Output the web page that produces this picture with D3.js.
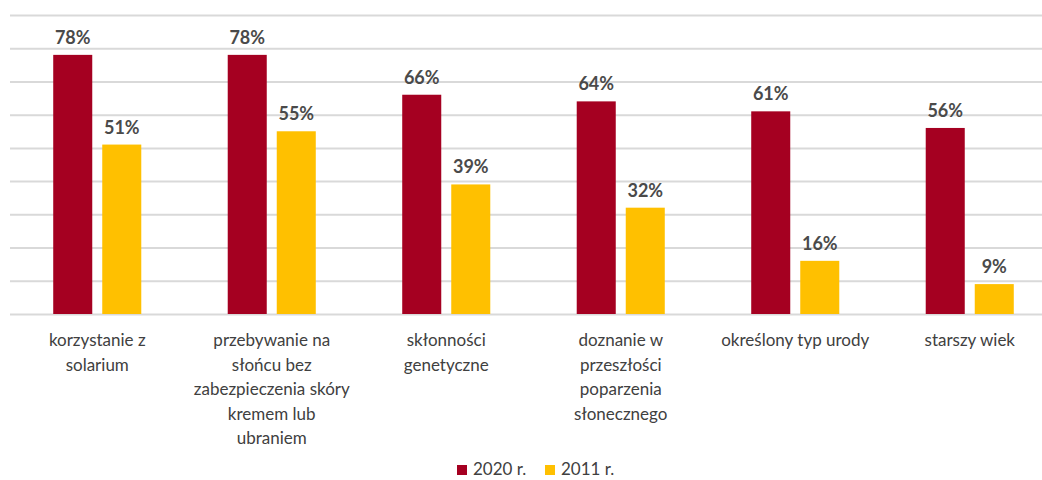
<!DOCTYPE html>
<html lang="pl">
   <head>
      <meta charset="utf-8">
      <title>Czynniki ryzyka</title>
      <!-- D3 library -->
      <script src="https://d3js.org/d3.v7.min.js"></script>
      <style>
         body { margin: 0; background: white; }
         svg text { font-family: Lato, "Open Sans", sans-serif; fill: #404040; }
      </style>
   </head>
   <body>
   <div id="chart"></div>

   <script>
   // ---- data ----
   var categories = ["korzystanie z solarium",
                     "przebywanie na słońcu bez zabezpieczenia skóry kremem lub ubraniem",
                     "skłonności genetyczne",
                     "doznanie w przeszłości poparzenia słonecznego",
                     "określony typ urody",
                     "starszy wiek"];
   // how the category labels wrap under the axis
   var categoryLines = [["korzystanie z", "solarium"],
                        ["przebywanie na", "słońcu bez", "zabezpieczenia skóry", "kremem lub", "ubraniem"],
                        ["skłonności", "genetyczne"],
                        ["doznanie w", "przeszłości", "poparzenia", "słonecznego"],
                        ["określony typ urody"],
                        ["starszy wiek"]];
   var seriesNames = ["2020 r.", "2011 r."];
   var values2020 = [78, 78, 66, 64, 61, 56];
   var values2011 = [51, 55, 39, 32, 16, 9];
   var yTicks = [0, 10, 20, 30, 40, 50, 60, 70, 80, 90];

   var colors = ["#a50021", "#ffc000"];

   var width = 1042, height = 480;
   // note: "top" is taken by window.top, so plot* names
   var plotLeft = 10, plotRight = 1057, plotTop = 15, plotBottom = 314;

   var svg = d3.select("#chart").append("svg")
      .attr("width", width)
      .attr("height", height);

   var x0 = d3.scaleBand()
      .domain(categories)
      .range([plotLeft, plotRight])
      .paddingInner(0.4954)
      .paddingOuter(0.2477);

   var x1 = d3.scaleBand()
      .domain(seriesNames)
      .range([0, x0.bandwidth()])
      .paddingInner(0.204);

   var y = d3.scaleLinear()
      .domain([0, 90])
      .range([plotBottom, plotTop]);

   // gridlines
   var grid = svg.append("g")
      .attr("transform", "translate(" + plotLeft + ",0)")
      .call(d3.axisLeft(y).tickValues(yTicks).tickSize(-(width - plotLeft)).tickFormat(""));
   grid.select(".domain").remove();
   grid.selectAll("line")
      .attr("stroke", "#d9d9d9")
      .attr("stroke-width", 2);

   // one row per category
   var rows = categories.map(function(c, i) {
      return { cat: c, lines: categoryLines[i], vals: [values2020[i], values2011[i]] };
   });

   var groups = svg.selectAll("g.grp")
      .data(rows)
      .enter()
         .append("g")
         .attr("class", "grp")
         .attr("transform", function(d) { return "translate(" + x0(d.cat) + ",0)"; });

   groups.selectAll("rect")
      .data(function(d) { return d.vals.map(function(v, j) { return { s: seriesNames[j], v: v, j: j }; }); })
      .enter()
         .append("rect")
         .attr("x", function(d) { return x1(d.s); })
         .attr("y", function(d) { return y(d.v); })
         .attr("width", x1.bandwidth())
         .attr("height", function(d) { return y(0) - y(d.v); })
         .attr("fill", function(d) { return colors[d.j]; });

   // value labels
   groups.selectAll("text.val")
      .data(function(d) { return d.vals.map(function(v, j) { return { s: seriesNames[j], v: v }; }); })
      .enter()
         .append("text")
         .attr("class", "val")
         .attr("x", function(d) { return x1(d.s) + x1.bandwidth() / 2; })
         .attr("y", function(d) { return y(d.v) - 11; })
         .attr("text-anchor", "middle")
         .style("font-size", "18px")
         .style("font-weight", "bold")
         .style("fill", "#4a4a4a")
         .text(function(d) { return d.v + "%"; });

   // category labels
   var catText = groups.append("text")
      .attr("text-anchor", "middle")
      .style("font-size", "17px");
   catText.selectAll("tspan")
      .data(function(d) { return d.lines; })
      .enter()
         .append("tspan")
         .attr("x", x0.bandwidth() / 2)
         .attr("y", function(d, i) { return 346 + i * 24.5; })
         .text(function(d) { return d; });

   // legend
   var legendX = [457, 545];
   var legend = svg.selectAll("g.leg")
      .data(seriesNames)
      .enter()
         .append("g")
         .attr("class", "leg")
         .attr("transform", function(d, i) { return "translate(" + legendX[i] + ",465)"; });
   legend.append("rect")
      .attr("width", 10)
      .attr("height", 10)
      .attr("fill", function(d, i) { return colors[i]; });
   legend.append("text")
      .attr("x", 16)
      .attr("y", 10)
      .style("font-size", "17px")
      .text(function(d) { return d; });
   </script>
   </body>
</html>
